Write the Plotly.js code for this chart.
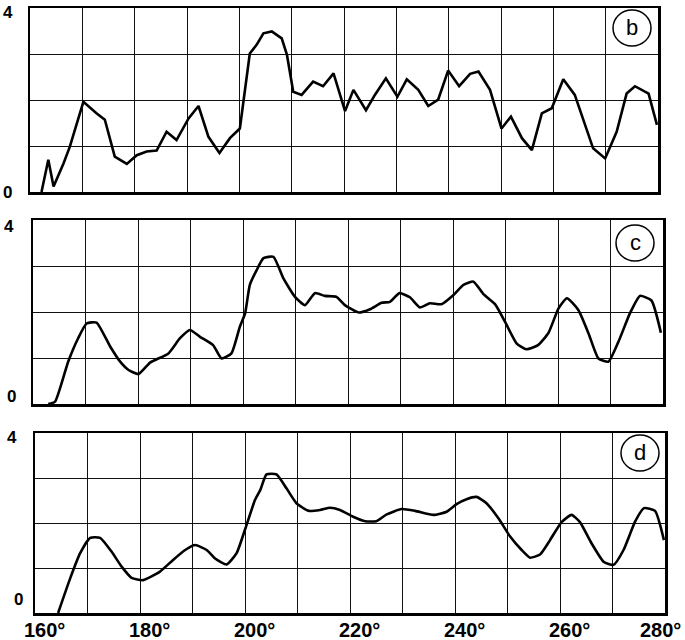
<!DOCTYPE html>
<html>
<head>
<meta charset="utf-8">
<script src="https://cdn.plot.ly/plotly-3.0.1.min.js"></script>
<style>html,body{margin:0;padding:0;background:#fff;}#chart{width:685px;height:640px;}</style>
</head>
<body>
<div id="chart"></div>
<script>
// ---- data (angle in degrees, intensity) ----
const bX = [162.2,163.5,164.5,166.4,167.6,168.9,170.2,172.7,174.3,176.2,178.5,180.4,182.3,184.2,186.1,188.0,190.3,192.2,194.1,196.2,198.2,200.1,202.0,203.3,204.6,206.2,208.1,209.1,210.3,211.9,214.1,216.0,218.0,220.2,221.8,224.2,225.9,228.0,230.2,232.0,234.2,236.1,238.0,239.9,242.0,244.1,245.7,247.9,250.1,251.9,254.0,255.9,257.8,259.7,261.9,264.1,267.6,269.9,272.1,274.0,275.6,278.2,279.8];
const bY = [0.0,0.70,0.12,0.62,0.98,1.46,1.96,1.71,1.57,0.77,0.61,0.80,0.88,0.90,1.31,1.13,1.60,1.87,1.20,0.85,1.17,1.38,3.01,3.20,3.45,3.49,3.34,2.98,2.18,2.11,2.40,2.30,2.58,1.76,2.22,1.78,2.11,2.47,2.07,2.45,2.22,1.87,2.01,2.64,2.30,2.57,2.62,2.22,1.38,1.64,1.17,0.91,1.71,1.82,2.45,2.11,0.95,0.73,1.31,2.14,2.30,2.14,1.46];

const cX = [162.9,164.2,166.7,168.6,170.2,172.1,174.7,176.6,178.2,180.1,182.3,185.8,188.0,189.9,191.8,194.3,195.9,197.8,199.4,200.4,201.3,202.6,203.9,205.8,207.7,209.9,211.8,213.7,215.6,217.8,219.4,222.0,224.2,226.4,228.0,229.8,231.8,233.7,235.6,237.8,240.1,242.0,243.9,245.8,248.0,249.9,252.1,254.0,256.2,258.2,260.1,261.7,263.9,265.8,267.7,269.6,271.5,273.7,275.6,277.8,279.6];
const cY = [0.0,0.05,0.92,1.43,1.75,1.77,1.25,0.92,0.74,0.65,0.90,1.10,1.43,1.61,1.46,1.28,0.99,1.10,1.68,1.97,2.59,2.91,3.17,3.20,2.73,2.33,2.15,2.41,2.35,2.33,2.15,1.99,2.06,2.20,2.22,2.41,2.32,2.10,2.19,2.17,2.37,2.59,2.66,2.39,2.17,1.79,1.32,1.19,1.28,1.55,2.08,2.30,2.04,1.54,0.99,0.92,1.35,1.97,2.35,2.25,1.55];

const dX = [164.4,166.7,168.6,170.5,172.4,174.6,176.5,178.4,180.6,183.8,186.3,188.6,190.5,192.7,194.3,196.5,198.4,200.3,201.9,202.9,204.1,206.0,207.9,209.8,212.1,214.3,216.2,218.1,220.6,222.9,225.0,227.0,229.8,232.4,235.9,238.4,240.3,242.2,244.1,246.0,248.3,250.5,252.7,254.3,256.2,258.1,260.3,262.2,263.8,266.0,268.3,270.2,272.1,274.3,276.0,278.1,279.8];
const dY = [0.0,0.77,1.33,1.67,1.67,1.36,1.03,0.78,0.73,0.92,1.18,1.40,1.51,1.40,1.21,1.08,1.33,1.96,2.51,2.73,3.08,3.08,2.77,2.44,2.27,2.29,2.34,2.29,2.14,2.04,2.04,2.19,2.31,2.27,2.18,2.25,2.42,2.53,2.58,2.44,2.10,1.70,1.40,1.23,1.30,1.62,2.02,2.18,2.02,1.55,1.14,1.07,1.40,2.03,2.33,2.27,1.62];

const panelLetters = ['b','c','d'];
const xTickVals = [160,180,200,220,240,260,280];
const xTickText = ['160°','180°','200°','220°','240°','260°','280°'];
const yLabelVals = [0,4];
const yLabelText = ['0','4'];

// ---- layout geometry (pixels) ----
const W = 685, H = 640;
const panels = [
  {x0:30, x1:658, y0:8,   y1:192, lab4:[8,12],  lab0:[8,192], circ:[632,28],  shape:'linear'},
  {x0:33, x1:663, y0:220, y1:404, lab4:[9,226], lab0:[11,396], circ:[635,243], shape:'spline'},
  {x0:35, x1:665, y0:433, y1:613, lab4:[12,437], lab0:[18,599], circ:[640,453], shape:'spline'}
];
const seriesX = [bX,cX,dX];
const seriesY = [bY,cY,dY];

const traces = [];
const layout = {
  width:W, height:H,
  margin:{l:0,r:0,t:0,b:0},
  paper_bgcolor:'#fff', plot_bgcolor:'#fff',
  showlegend:false,
  shapes:[], annotations:[]
};

panels.forEach((p,i)=>{
  const n = i===0 ? '' : String(i+1);
  traces.push({
    x:seriesX[i], y:seriesY[i], type:'scatter', mode:'lines',
    xaxis:'x'+n, yaxis:'y'+n,
    line:{color:'#000', width:2.6, shape:p.shape, smoothing:0.5},
    cliponaxis:true, hoverinfo:'skip'
  });
  layout['xaxis'+n] = {
    domain:[p.x0/W, p.x1/W], range:[160,280], anchor:'y'+n,
    dtick:10, tick0:160, showgrid:true, gridcolor:'#111', gridwidth:1,
    showline:true, mirror:true, linecolor:'#000', linewidth:2.5,
    showticklabels:false, ticks:'', zeroline:false, fixedrange:true
  };
  layout['yaxis'+n] = {
    domain:[1-p.y1/H, 1-p.y0/H], range:[0,4], anchor:'x'+n,
    dtick:1, tick0:0, showgrid:true, gridcolor:'#111', gridwidth:1,
    showline:true, mirror:true, linecolor:'#000', linewidth:2.5,
    showticklabels:false, ticks:'', zeroline:false, fixedrange:true
  };
  // y labels 0 and 4
  [p.lab0, p.lab4].forEach((pos,k)=>{
    layout.annotations.push({
      text:yLabelText[k], xref:'paper', yref:'paper',
      x:pos[0]/W, y:1-pos[1]/H, xanchor:'center', yanchor:'middle',
      showarrow:false,
      font:{family:'Liberation Sans, Arial, sans-serif', size:17, weight:'bold', color:'#000'}
    });
  });
  // circled panel letter
  const r = 19;
  layout.shapes.push({
    type:'circle', xref:'paper', yref:'paper',
    x0:(p.circ[0]-r)/W, x1:(p.circ[0]+r)/W,
    y0:1-(p.circ[1]+r*0.95)/H, y1:1-(p.circ[1]-r*0.95)/H,
    line:{color:'#000', width:1.5}, fillcolor:'rgba(0,0,0,0)'
  });
  layout.annotations.push({
    text:panelLetters[i], xref:'paper', yref:'paper',
    x:p.circ[0]/W, y:1-(p.circ[1]-1)/H, xanchor:'center', yanchor:'middle',
    showarrow:false,
    font:{family:'Liberation Sans, Arial, sans-serif', size:22, color:'#000'}
  });
});

// x tick labels under the bottom panel
xTickVals.forEach((v,k)=>{
  const last = k===xTickVals.length-1;
  layout.annotations.push({
    text:xTickText[k], xref:'x3', yref:'paper',
    x:v, y:1-629.5/H, xanchor: last ? 'right' : 'center', yanchor:'middle',
    xshift: last ? 18 : 9,
    showarrow:false,
    font:{family:'Liberation Sans, Arial, sans-serif', size:20, weight:'bold', color:'#000'}
  });
});

Plotly.newPlot('chart', traces, layout, {staticPlot:true, displayModeBar:false});
</script>
</body>
</html>
